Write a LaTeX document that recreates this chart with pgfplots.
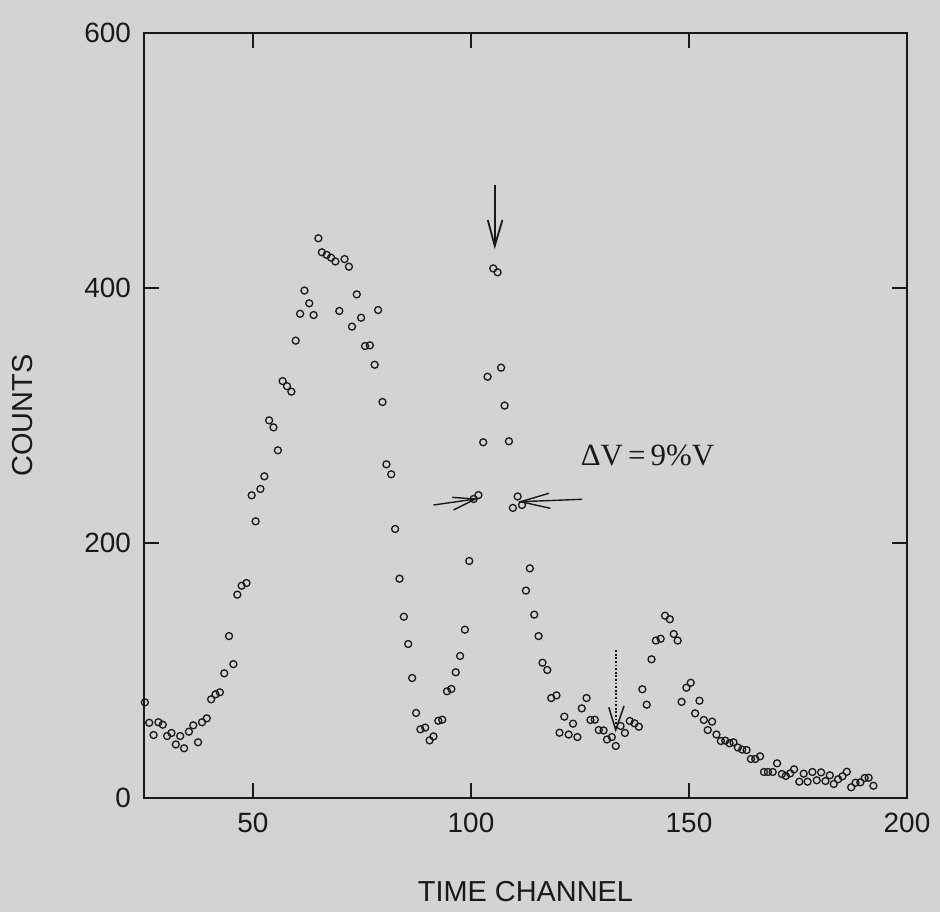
\documentclass[border=0pt]{standalone}
\usepackage{fontspec}
\setmainfont{Liberation Sans}
\newfontfamily\seriffont{Liberation Serif}
\usepackage{pgfplots}
\pgfplotsset{compat=1.18}
\definecolor{paper}{RGB}{211,211,209}
\definecolor{ink}{RGB}{25,25,25}
\pgfplotstableread{
x y
25.2 75
26.2 59
27.2 49.4
28.3 59.4
29.3 57.5
30.3 48.6
31.3 51
32.3 42
33.3 48.6
34.2 39
35.3 52
36.3 57
37.4 43.7
38.3 59.4
39.4 62.5
40.4 77.4
41.4 81.3
42.4 82.9
43.4 97.8
44.5 127
45.5 105
46.4 159.5
47.4 166.5
48.5 168.6
49.7 237.4
50.6 217
51.7 242.4
52.6 252.3
53.7 296.2
54.7 290.7
55.7 272.7
56.8 327
57.8 323
58.8 318.7
59.8 358.7
60.8 379.8
61.8 398
62.9 388
63.9 378.8
65.0 439
65.8 428
66.9 426
67.9 423.8
68.9 420.8
69.8 382
71.0 422.7
72.0 416.7
72.7 369.7
73.8 395
74.8 376.7
75.7 354.5
76.8 355
77.9 339.8
78.7 382.7
79.7 310.6
80.6 261.7
81.7 253.9
82.6 211
83.6 172
84.6 142.2
85.6 120.8
86.5 94.1
87.4 66.7
88.4 53.9
89.5 55.2
90.5 45.2
91.4 48.3
92.5 60.6
93.4 61.4
94.5 83.7
95.5 85.5
96.5 98.6
97.5 111.4
98.6 132
99.6 185.9
100.6 234.5
101.7 237.6
102.8 279
103.8 330.4
105.1 415.4
106.1 412.3
106.9 337.5
107.7 307.8
108.7 279.8
109.6 227.5
110.7 236.5
111.7 229.8
112.6 162.7
113.5 180.1
114.5 143.8
115.5 127
116.4 106.1
117.5 100.4
118.4 78.4
119.6 80.5
120.3 51.2
121.4 63.8
122.4 49.8
123.4 58.3
124.4 47.8
125.4 70.3
126.5 78.4
127.4 61.2
128.4 61.4
129.3 53.3
130.4 53
131.2 45.9
132.3 47.8
133.2 40.8
134.3 56.5
135.3 51
136.4 60.4
137.5 58.6
138.5 55.9
139.3 85.3
140.3 73.2
141.4 108.8
142.4 123.5
143.5 124.9
144.5 143
145.6 140.2
146.5 128.6
147.4 123.5
148.3 75.4
149.4 86.5
150.4 90.4
151.4 66.4
152.4 76.3
153.4 61.2
154.3 53.3
155.3 59.9
156.3 49.8
157.3 44.7
158.3 45
159.3 42.9
160.2 43.7
161.2 39.6
162.2 38
163.2 37.6
164.2 30.6
165.2 30.6
166.3 32.7
167.2 20.4
168.1 20.4
169.2 20.4
170.2 27.2
171.3 18.8
172.2 17.3
173.2 19.3
174.1 22.5
175.3 12.8
176.3 19.1
177.2 12.8
178.3 20.4
179.3 13.9
180.3 20.1
181.3 13.3
182.3 17.8
183.2 11
184.2 14.7
185.2 17
186.2 20.6
187.2 8.4
188.2 12
189.3 12.3
190.3 15.7
191.2 15.9
192.3 9.6
}\counts
\begin{document}
\begin{tikzpicture}
\fill[paper] (0,0) rectangle (470bp,456bp);
\useasboundingbox (0,0) rectangle (470bp,456bp);
\begin{axis}[
  at={(72bp,57bp)}, anchor=south west,
  scale only axis, width=381.5bp, height=382.5bp,
  xmin=25, xmax=200, ymin=0, ymax=600,
  xtick={50,100,150,200}, ytick={0,200,400,600},
  tick align=inside, major tick length=7.5bp,
  axis line style={line width=1bp, ink},
  every tick/.style={line width=1bp, ink},
  /pgf/number format/assume math mode=true,
  tick label style={font=\fontsize{14}{16}\selectfont, text=ink},
  xticklabel style={yshift=-4bp},
  yticklabel style={xshift=-3bp},
  xlabel={TIME CHANNEL}, ylabel={COUNTS},
  label style={font=\fontsize{14.5}{17}\selectfont, text=ink},
  xlabel style={at={(axis description cs:0.5,-0.1229)}, anchor=center},
  ylabel style={at={(axis description cs:-0.1586,0.5)}, anchor=center, rotate=0},
  clip=false,
]
\addplot[only marks, mark=o, mark size=1.75bp, ink, mark options={line width=0.65bp}] table {\counts};
% top arrow
\draw[ink, line width=0.8bp] (axis cs:105.5,481) -- (axis cs:105.5,433);
\draw[ink, line width=0.9bp, line join=miter] (axis cs:103.85,453.3) -- (axis cs:105.45,433) -- (axis cs:107.2,453.3);
% left horizontal arrow
\draw[ink, line width=0.7bp] (axis cs:91.4,229.8) -- (axis cs:101.0,234.5);
\draw[ink, line width=0.7bp] (axis cs:95.7,235.8) -- (axis cs:101.0,234.5) -- (axis cs:96.0,225.9);
% right horizontal arrow
\draw[ink, line width=0.7bp] (axis cs:125.5,234.3) -- (axis cs:111.4,232.4);
\draw[ink, line width=0.7bp] (axis cs:117.9,239.0) -- (axis cs:111.4,232.4) -- (axis cs:118.2,227.2);
% dotted arrow
\draw[ink, line width=0.9bp, dash pattern=on 0.9bp off 0.9bp] (axis cs:133.2,116) -- (axis cs:133.2,56);
\draw[ink, line width=0.75bp] (axis cs:131.6,71.1) -- (axis cs:133.2,53.3) -- (axis cs:135.1,72.2);
\node[anchor=west, inner sep=0pt, text=ink, font=\seriffont\fontsize{15.5}{17}\selectfont] at (axis cs:125.1,269) {ΔV\,=\,9\%V};
\end{axis}
\end{tikzpicture}
\end{document}
